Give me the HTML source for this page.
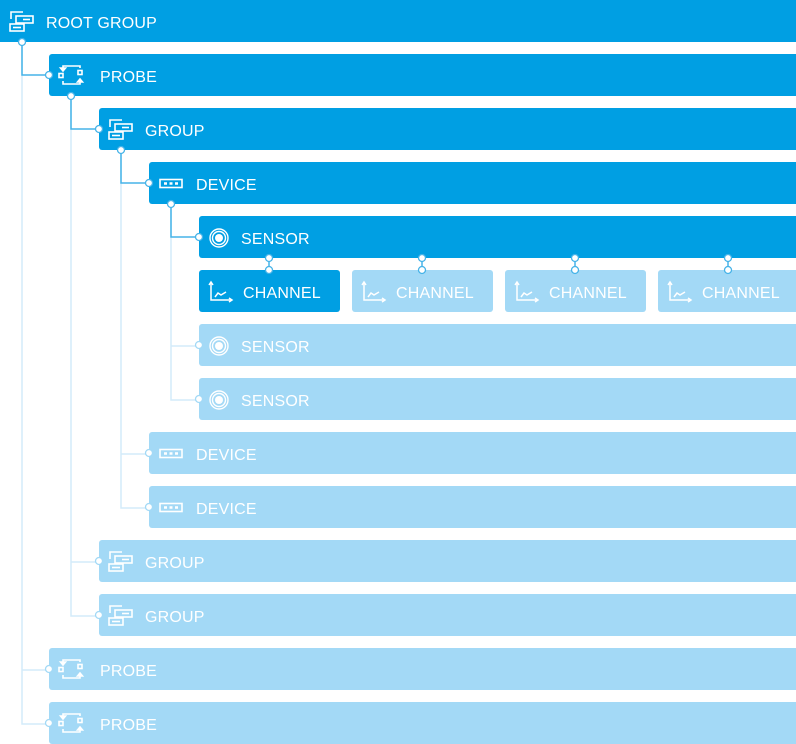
<!DOCTYPE html>
<html><head><meta charset="utf-8"><style>
html,body{margin:0;padding:0;background:#fff;}
svg{display:block}
text{font-family:"Liberation Sans",sans-serif;font-size:16px;fill:#fff;letter-spacing:0.2px}
</style></head><body>
<svg width="796" height="744" viewBox="0 0 796 744" xmlns="http://www.w3.org/2000/svg">
<defs>
<g id="ig" fill="none" stroke="#fff" stroke-width="1.6">
<path d="M11 19 V12 H23"/><rect x="16" y="16" width="17" height="7"/><path d="M23 19.5 H30"/>
<rect x="10" y="24" width="14" height="7"/><path d="M13 27.5 H21"/>
</g>
<g id="ip" fill="none" stroke="#fff" stroke-width="1.6">
<path d="M14 15 V12 H31 V14"/><path d="M14 27 V30 H31 V27"/>
<rect x="10" y="19.5" width="4" height="4"/><rect x="29" y="16.5" width="4" height="4"/>
<path d="M11.5 14 L14 17 L16.5 14 Z" fill="#fff"/><path d="M28.5 28 L31 25 L33.5 28 Z" fill="#fff"/>
</g>
<g id="id" fill="none" stroke="#fff" stroke-width="1.6">
<rect x="11" y="17.5" width="22" height="8"/><path d="M15 21.5 H18 M20.5 21.5 H23.5 M26 21.5 H29" stroke-width="2.5"/>
</g>
<g id="is" fill="none" stroke="#fff">
<circle cx="20" cy="22" r="9" stroke-width="1.4"/><circle cx="20" cy="22" r="6.5" stroke-width="1.4"/><circle cx="20" cy="22" r="4" fill="#fff" stroke="none"/>
</g>
<g id="ic" fill="none" stroke="#fff" stroke-width="1.5">
<path d="M12 13 V30 H32"/><path d="M10 15 L12 12 L14 15 M30 28 L33 30 L30 32"/><path d="M16 27 L19 23 L22 25 L27 22"/>
</g>
</defs>
<g stroke="#d3ebfa" stroke-width="1.5" fill="none">
<path d="M22 42 V724 H49 M22 670 H49"/>
<path d="M71 96 V616 H99 M71 562 H99"/>
<path d="M121 150 V508 H149 M121 454 H149"/>
<path d="M171 204 V400 H199 M171 346 H199"/>
</g>
<g stroke="#46b3e8" stroke-width="1.5" fill="none">
<path d="M22 42 V75 H49"/><path d="M71 96 V129 H99"/><path d="M121 150 V183 H149"/><path d="M171 204 V237 H199"/>
<path d="M269 258 V270 M422 258 V270 M575 258 V270 M728 258 V270"/>
</g>
<g fill="#009fe3">
<rect x="-4" y="0" width="804" height="42" rx="3"/>
<rect x="49" y="54" width="751" height="42" rx="3"/>
<rect x="99" y="108" width="701" height="42" rx="3"/>
<rect x="149" y="162" width="651" height="42" rx="3"/>
<rect x="199" y="216" width="601" height="42" rx="3"/>
<rect x="199" y="270" width="141" height="42" rx="3"/>
</g>
<g fill="#a3d9f6">
<rect x="352" y="270" width="141" height="42" rx="3"/>
<rect x="505" y="270" width="141" height="42" rx="3"/>
<rect x="658" y="270" width="142" height="42" rx="3"/>
<rect x="199" y="324" width="601" height="42" rx="3"/>
<rect x="199" y="378" width="601" height="42" rx="3"/>
<rect x="149" y="432" width="651" height="42" rx="3"/>
<rect x="149" y="486" width="651" height="42" rx="3"/>
<rect x="99" y="540" width="701" height="42" rx="3"/>
<rect x="99" y="594" width="701" height="42" rx="3"/>
<rect x="49" y="648" width="751" height="42" rx="3"/>
<rect x="49" y="702" width="751" height="42" rx="3"/>
</g>
<g fill="#fff" stroke="#46b3e8" stroke-width="1.3">
<circle cx="22" cy="42" r="3.5"/><circle cx="49" cy="75" r="3.5"/><circle cx="71" cy="96" r="3.5"/><circle cx="99" cy="129" r="3.5"/>
<circle cx="121" cy="150" r="3.5"/><circle cx="149" cy="183" r="3.5"/><circle cx="171" cy="204" r="3.5"/><circle cx="199" cy="237" r="3.5"/>
<circle cx="269" cy="258" r="3.5"/><circle cx="269" cy="270" r="3.5"/>
<circle cx="422" cy="258" r="3.5"/><circle cx="422" cy="270" r="3.5"/>
<circle cx="575" cy="258" r="3.5"/><circle cx="575" cy="270" r="3.5"/>
<circle cx="728" cy="258" r="3.5"/><circle cx="728" cy="270" r="3.5"/>
</g>
<g fill="#fff" stroke="#a3d9f6" stroke-width="1.3">
<circle cx="199" cy="345" r="3.5"/><circle cx="199" cy="399" r="3.5"/><circle cx="149" cy="453" r="3.5"/><circle cx="149" cy="507" r="3.5"/>
<circle cx="99" cy="561" r="3.5"/><circle cx="99" cy="615" r="3.5"/><circle cx="49" cy="669" r="3.5"/><circle cx="49" cy="723" r="3.5"/>
</g>
<use href="#ig" x="0" y="0"/><use href="#ip" x="49" y="54"/><use href="#ig" x="99" y="108"/><use href="#id" x="149" y="162"/>
<use href="#is" x="199" y="216"/><use href="#ic" x="199" y="270"/><use href="#ic" x="352" y="270"/><use href="#ic" x="505" y="270"/><use href="#ic" x="658" y="270"/>
<use href="#is" x="199" y="324"/><use href="#is" x="199" y="378"/><use href="#id" x="149" y="432"/><use href="#id" x="149" y="486"/>
<use href="#ig" x="99" y="540"/><use href="#ig" x="99" y="594"/><use href="#ip" x="49" y="648"/><use href="#ip" x="49" y="702"/>
<text x="46" y="28">ROOT GROUP</text>
<text x="100" y="82">PROBE</text>
<text x="145" y="136">GROUP</text>
<text x="196" y="190">DEVICE</text>
<text x="241" y="244">SENSOR</text>
<text x="243" y="298">CHANNEL</text>
<text x="396" y="298">CHANNEL</text>
<text x="549" y="298">CHANNEL</text>
<text x="702" y="298">CHANNEL</text>
<text x="241" y="352">SENSOR</text>
<text x="241" y="406">SENSOR</text>
<text x="196" y="460">DEVICE</text>
<text x="196" y="514">DEVICE</text>
<text x="145" y="568">GROUP</text>
<text x="145" y="622">GROUP</text>
<text x="100" y="676">PROBE</text>
<text x="100" y="730">PROBE</text>
</svg>
</body></html>
